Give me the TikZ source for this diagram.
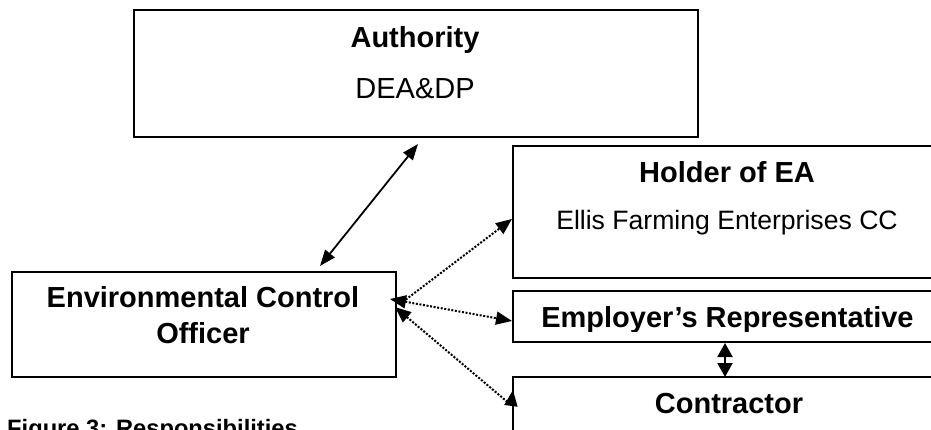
\documentclass[tikz,border=0pt]{standalone}
\usepackage{fontspec}
\setmainfont{Liberation Sans}
\usetikzlibrary{arrows.meta}
\tikzset{dhead/.tip={Triangle[length=16pt,width=13pt]}}
\begin{document}
\begin{tikzpicture}[x=1pt,y=-1pt,
  boxstyle/.style={draw=black, line width=2pt, inner sep=0pt, anchor=north west},
  boldtxt/.style={font=\fontsize{29}{29}\selectfont\bfseries, anchor=base, inner sep=0pt},
  regtxt/.style={font=\fontsize{27}{27}\selectfont, anchor=base, inner sep=0pt},
  captxt/.style={font=\fontsize{23.7}{24}\selectfont\bfseries, anchor=base west, inner sep=0pt},
  solidlink/.style={line width=1.8pt, {Triangle[length=16pt,width=12pt]}-{Triangle[length=16pt,width=12pt]}},
  dotlink/.style={line width=2pt, dash pattern=on 2pt off 1.6pt},
  shortlink/.style={line width=2pt, {Triangle[length=14pt,width=15pt]}-{Triangle[length=14pt,width=15pt]}}
]
\path[use as bounding box, clip] (0,0) rectangle (931,430);
\fill[white] (0,0) rectangle (931,430);

% boxes
\node[boxstyle, minimum width=564pt, minimum height=127pt] (auth) at (133,9) {};
\node[boxstyle, minimum width=431pt, minimum height=132pt] (hold) at (512,145) {};
\node[boxstyle, minimum width=431pt, minimum height=51pt] (emp) at (512,290) {};
\node[boxstyle, minimum width=431pt, minimum height=80pt] (con) at (512,376) {};
\node[boxstyle, minimum width=384pt, minimum height=105pt] (eco) at (11,271) {};

% texts
\node[boldtxt] (authT) at (415,48) {Authority};
\node[regtxt, font=\fontsize{29}{29}\selectfont] (authS) at (415,99) {DEA\&DP};
\node[regtxt, font=\fontsize{26.6}{27}\selectfont] (holdS) at (727,230) {Ellis Farming Enterprises CC};
\node[boldtxt] (holdT) at (727,183) {Holder of EA};
\begin{scope}
\clip (514,292) rectangle (941,331);
\node[boldtxt] (empT) at (727.5,327.5) {Employer’s Representative};
\end{scope}
\node[boldtxt] (conT) at (729,413) {Contractor};
\node[boldtxt] (ecoT1) at (203,307) {Environmental Control};
\node[boldtxt] (ecoT2) at (203,343) {Officer};
\node[captxt] (cap) at (7,436) {Figure 3: Responsibilities};

% connector end points
\coordinate (aTop) at (418,144);
\coordinate (aBot) at (320,266);
\coordinate (ecoH) at (400,304);
\coordinate (holdTip) at (512,219);
\coordinate (ecoE) at (390,299);
\coordinate (empTip) at (512,321);
\coordinate (ecoC) at (395,307);
\coordinate (conBase) at (511,405);
\coordinate (conTip) at (513,390);
\coordinate (erTop) at (725,343);
\coordinate (erBot) at (725,377);

% connectors
\draw[solidlink] (aBot) -- (aTop);
\draw[dotlink, -dhead] (ecoH) -- (holdTip);
\draw[dotlink, dhead-dhead] (ecoE) -- (empTip);
\draw[dotlink, dhead-dhead] (ecoC) -- (conBase) -- (conTip);
\draw[shortlink] (erTop) -- (erBot);
\end{tikzpicture}
\end{document}
